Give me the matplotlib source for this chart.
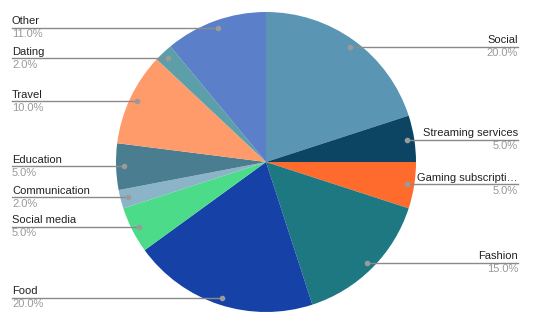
import numpy as np
import matplotlib.pyplot as plt

plt.rcParams['font.family'] = ['Liberation Sans', 'DejaVu Sans']

labels = ['Social', 'Streaming services', 'Gaming subscripti…', 'Fashion', 'Food',
          'Social media', 'Communication', 'Education', 'Travel', 'Dating', 'Other']
values = [20, 5, 5, 15, 20, 5, 2, 5, 10, 2, 11]
colors = ['#5A95B3', '#0C4563', '#FF6B2D', '#1E7882', '#1642A8',
          '#4CDB89', '#8BB4C8', '#4A7D90', '#FF9B6B', '#5C9FA9', '#5B7FC9']

W, H = 533, 324
fig = plt.figure(figsize=(W / 100, H / 100), dpi=100)
ax = fig.add_axes([0, 0, 1, 1])

cx, cy, R = 266, 162, 150
wedges, _ = ax.pie(values, colors=colors, startangle=90, counterclock=False,
                   center=(cx, cy), radius=R, wedgeprops=dict(linewidth=0))

total = sum(values)
for w, lab, v in zip(wedges, labels, values):
    mid = np.deg2rad((w.theta1 + w.theta2) / 2)
    dx = cx + 0.95 * R * np.cos(mid)
    dy = cy + 0.95 * R * np.sin(mid)
    pct = f"{100 * v / total:.1f}%"
    if np.cos(mid) >= 0:
        x_end = 518
        ha = 'right'
    else:
        x_end = 12
        ha = 'left'
    ax.plot([dx, x_end], [dy, dy], color='#8a8a8a', lw=1.0, zorder=3)
    ax.plot(dx, dy, 'o', color='#9a9a9a', ms=3, zorder=4)
    ax.text(x_end, dy + 1.5, lab, ha=ha, va='bottom', fontsize=8, color='#222222')
    ax.text(x_end, dy - 1.5, pct, ha=ha, va='top', fontsize=8, color='#999999')

ax.set_xlim(0, W)
ax.set_ylim(0, H)
ax.set_aspect('equal')
ax.axis('off')

plt.savefig('out.png', dpi=100)
